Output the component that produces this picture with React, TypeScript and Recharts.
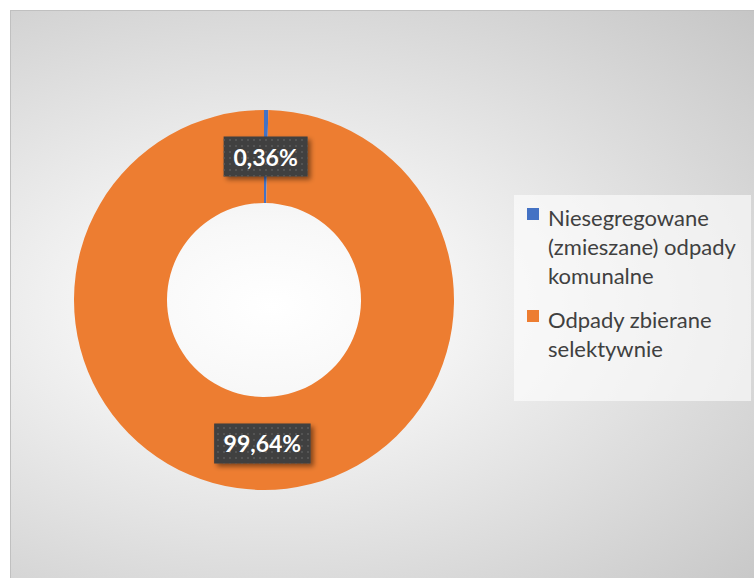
import React from 'react'
import { PieChart, Pie, Cell, Legend } from 'recharts'

const categories = ['Niesegregowane (zmieszane) odpady komunalne', 'Odpady zbierane selektywnie']
const legendLines = [['Niesegregowane', '(zmieszane) odpady', 'komunalne'], ['Odpady zbierane', 'selektywnie']]
const shares = [0.36, 99.64]
const colors = ['#4472C4', '#ED7D31']

const data = categories.map((name, i) => ({ name, value: shares[i] }))

const RADIAN = Math.PI / 180

const fmt = (v: number) => v.toFixed(2).replace('.', ',') + '%'

function textWidth(s: string) {
  let w = 0
  for (const ch of s) {
    if (ch === ',') w += 5.5
    else if (ch === '%') w += 19
    else w += 12.5
  }
  return w
}

function renderLabel(props: any) {
  const { cx, cy, midAngle, innerRadius, outerRadius, value } = props
  const r = (innerRadius + outerRadius) / 2
  const x = cx + r * Math.cos(-midAngle * RADIAN)
  const y = cy + r * Math.sin(-midAngle * RADIAN)
  const label = fmt(value)
  const w = textWidth(label) + 22
  const h = 40
  return (
    <g>
      <rect x={x - w / 2} y={y - h / 2} width={w} height={h} fill="#404040" filter="url(#lblShadow)" />
      <rect x={x - w / 2} y={y - h / 2} width={w} height={h} fill="url(#dots)" />
      <text x={x} y={y} textAnchor="middle" dominantBaseline="central" fill="#ffffff"
        style={{ fontFamily: 'Lato, sans-serif', fontWeight: 700, fontSize: 23 }}>
        {label}
      </text>
    </g>
  )
}

function LegendBox() {
  return (
    <div style={{ width: 237, height: 206, background: 'rgba(255,255,255,0.6)', boxSizing: 'border-box', padding: '8px 0 0 13px', fontFamily: 'Lato, sans-serif', fontSize: 22, color: '#404040', lineHeight: '29px' }}>
      {legendLines.map((lines, i) => (
        <div key={i} style={{ position: 'relative', paddingLeft: 21, marginBottom: i === 0 ? 15 : 0 }}>
          <span style={{ position: 'absolute', left: 0, top: 5, width: 12, height: 12, background: colors[i] }} />
          {lines.map((t, j) => <div key={j} style={{ whiteSpace: 'nowrap' }}>{t}</div>)}
        </div>
      ))}
    </div>
  )
}

export default function App() {
  return (
    <div style={{ position: 'absolute', left: 0, top: 0, width: 754, height: 578, background: '#ffffff' }}>
      <div style={{
        position: 'absolute', left: 10, top: 10, width: 744, height: 568, boxSizing: 'border-box',
        borderTop: '1px solid #c0c0c0', borderLeft: '1px solid #c0c0c0',
        background: 'radial-gradient(ellipse farthest-corner at 35% 52%, #ffffff 0%, #f8f8f8 20%, #c6c6c6 100%)'
      }}>
        <PieChart width={743} height={567}>
          <defs>
            <filter id="lblShadow" x="-20%" y="-20%" width="150%" height="160%">
              <feDropShadow dx="3" dy="3" stdDeviation="2.5" floodColor="#000" floodOpacity="0.45" />
            </filter>
            <pattern id="dots" width="6" height="6" patternUnits="userSpaceOnUse">
              <circle cx="3" cy="3" r="1" fill="#5a5a5a" />
            </pattern>
          </defs>
          <Pie
            data={data}
            dataKey="value"
            nameKey="name"
            cx={248}
            cy={284}
            innerRadius={97}
            outerRadius={190}
            startAngle={90}
            endAngle={-270}
            stroke="none"
            label={renderLabel}
            labelLine={false}
            isAnimationActive={false}
          >
            {data.map((d, i) => <Cell key={d.name} fill={colors[i]} />)}
          </Pie>
          <Legend content={() => <LegendBox />} wrapperStyle={{ left: 503, top: 184, width: 237, height: 206 }} />
        </PieChart>
      </div>
    </div>
  )
}
